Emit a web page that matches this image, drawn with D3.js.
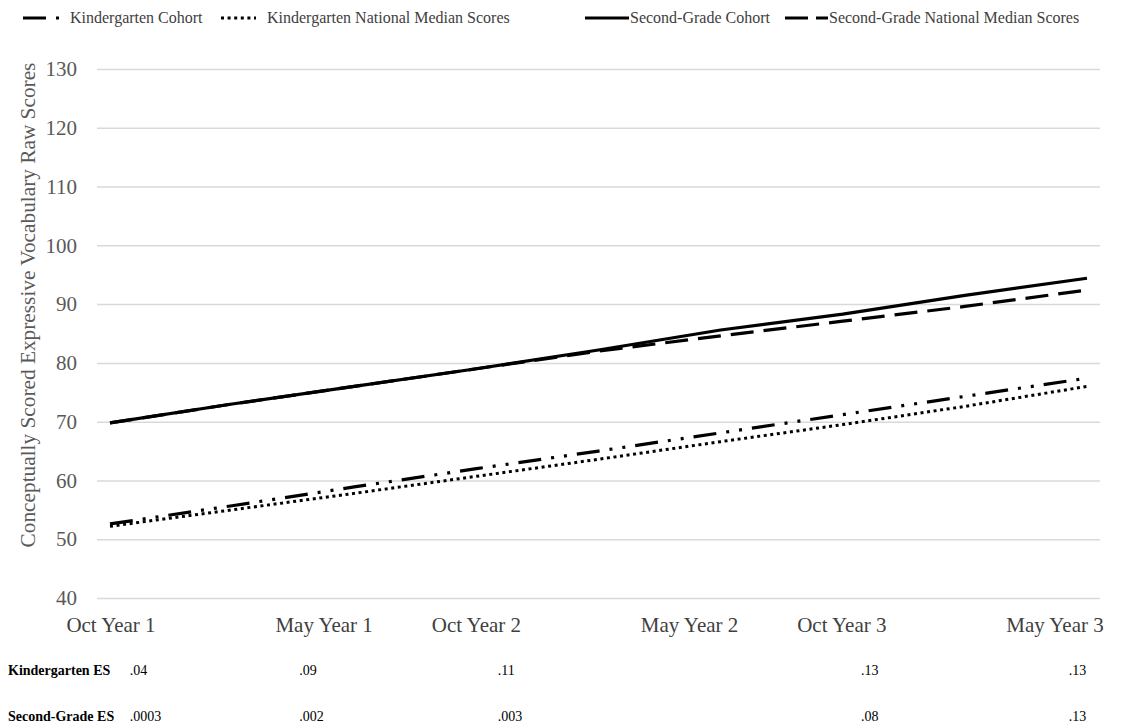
<!DOCTYPE html>
<html>
<head>
<meta charset="utf-8">
<script src="https://cdn.jsdelivr.net/npm/d3@7"></script>
<style>
  html, body { margin: 0; padding: 0; background: #ffffff; }
  svg { display: block; }
  text { font-family: "Liberation Serif", "Times New Roman", serif; }
</style>
</head>
<body>
<svg id="chart" width="1143" height="728"></svg>
<script>
// Assessment occasions and their position in months since the first test
const timepoints = ["Oct Year 1", "May Year 1", "Oct Year 2", "May Year 2", "Oct Year 3", "May Year 3"];
const timepointMonths = [0, 7, 12, 19, 24, 31];

// Months at which the growth trajectories are sampled
const sampleMonths = [0, 4, 8, 12, 16, 20, 24, 28, 32];

// Expressive vocabulary raw scores
const kinderCohort   = [52.6, 55.7, 58.9, 62.0, 65.0, 68.1, 71.2, 74.3, 77.4];
const kinderNational = [52.2, 55.0, 57.8, 60.7, 63.6, 66.6, 69.5, 72.6, 76.0];
const secondCohort   = [69.8, 73.0, 76.0, 79.0, 82.2, 85.6, 88.3, 91.5, 94.4];
const secondNational = [69.8, 73.0, 76.0, 79.0, 82.0, 84.6, 87.1, 89.6, 92.4];

// Effect sizes reported under the axis ("" = not reported)
const kinderES = [".04", ".09", ".11", "", ".13", ".13"];
const secondES = [".0003", ".002", ".003", "", ".08", ".13"];

const yTicks = [40, 50, 60, 70, 80, 90, 100, 110, 120, 130];

const seriesNames = [
  "Kindergarten Cohort",
  "Kindergarten National Median Scores",
  "Second-Grade Cohort",
  "Second-Grade National Median Scores"
];

// ---- layout ----
const plot = { left: 97, right: 1100, top: 69, bottom: 598 };
const lineInset = 13;
const esColumnMonths = [0.65, 6.2, 12.7, null, 24.6, 31.4];

const svg = d3.select("#chart");

const x = d3.scaleLinear()
  .domain([0, 32])
  .range([plot.left + lineInset, plot.right - lineInset]);

const y = d3.scaleLinear()
  .domain([40, 130])
  .range([plot.bottom, plot.top]);

// Horizontal gridlines with score labels
const yAxis = svg.append("g")
  .attr("transform", `translate(${plot.left},0)`)
  .call(d3.axisLeft(y)
    .tickValues(yTicks)
    .tickSize(-(plot.right - plot.left))
    .tickPadding(20));
yAxis.select(".domain").remove();
yAxis.selectAll(".tick line").attr("stroke", "#d9d9d9").attr("stroke-width", 1.5);
yAxis.selectAll(".tick text")
  .attr("fill", "#595959")
  .style("font-size", "21px")
  .style("font-family", "'Liberation Serif', 'Times New Roman', serif");

// Y axis title
svg.append("text")
  .attr("transform", "translate(35,305) rotate(-90)")
  .attr("text-anchor", "middle")
  .attr("fill", "#595959")
  .style("font-size", "21.3px")
  .text("Conceptually Scored Expressive Vocabulary Raw Scores");

// X labels for assessment occasions
const xLabelScale = d3.scaleLinear().domain([0, 31]).range([111, 1055]);
svg.append("g").selectAll("text")
  .data(timepoints)
  .join("text")
  .attr("x", (d, i) => xLabelScale(timepointMonths[i]))
  .attr("y", 632)
  .attr("text-anchor", "middle")
  .attr("fill", "#404040")
  .style("font-size", "21px")
  .text(d => d);

// Series styles
const styles = [
  { values: kinderCohort,   dash: "23,10,3,10,3,10", width: 3.2 },
  { values: kinderNational, dash: "3,3.6",           width: 3 },
  { values: secondCohort,   dash: null,              width: 3.2 },
  { values: secondNational, dash: "23,10",           width: 3.2 }
];

const line = d3.line()
  .x((d, i) => x(sampleMonths[i]))
  .y(d => y(d));

svg.append("g").selectAll("path")
  .data(styles)
  .join("path")
  .attr("d", d => line(d.values))
  .attr("fill", "none")
  .attr("stroke", "#000")
  .attr("stroke-width", d => d.width)
  .attr("stroke-dasharray", d => d.dash)
  .attr("stroke-linejoin", "round");

// Legend
const legendItems = [
  { sx: 23,  ex: 60,  tx: 70,  dash: "23,10,3,10" },
  { sx: 221, ex: 256, tx: 267, dash: "3,3.6" },
  { sx: 585, ex: 629, tx: 630, dash: null },
  { sx: 785, ex: 828, tx: 829, dash: "23,8" }
];
const legend = svg.append("g");
legendItems.forEach((item, i) => {
  legend.append("line")
    .attr("x1", item.sx).attr("x2", item.ex)
    .attr("y1", 18).attr("y2", 18)
    .attr("stroke", "#000")
    .attr("stroke-width", 3)
    .attr("stroke-dasharray", item.dash);
  legend.append("text")
    .attr("x", item.tx)
    .attr("y", 23)
    .attr("fill", "#404040")
    .style("font-size", "16px")
    .text(seriesNames[i]);
});

// Effect size rows
const esRows = [
  { label: "Kindergarten ES", values: kinderES, y: 675 },
  { label: "Second-Grade ES", values: secondES, y: 721 }
];
esRows.forEach(row => {
  svg.append("text")
    .attr("x", 8)
    .attr("y", row.y)
    .attr("fill", "#000")
    .style("font-size", "14px")
    .style("font-weight", "bold")
    .text(row.label);
  svg.append("g").selectAll("text")
    .data(row.values.map((v, i) => ({ v, m: esColumnMonths[i] })).filter(d => d.v !== ""))
    .join("text")
    .attr("x", d => x(d.m))
    .attr("y", row.y)
    .attr("fill", "#000")
    .style("font-size", "14px")
    .text(d => d.v);
});
</script>
</body>
</html>
